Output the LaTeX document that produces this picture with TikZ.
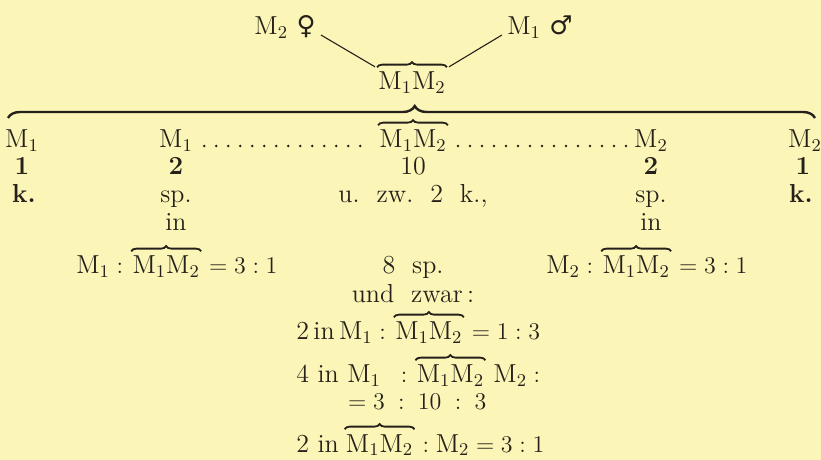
\documentclass[tikz,border=0pt]{standalone}
\usepackage{amsmath}
\usepackage{fontspec}
\newfontfamily\gsym{DejaVu Sans}
\usetikzlibrary{positioning, calc, decorations.pathreplacing}
\definecolor{paper}{RGB}{251,246,183}
\definecolor{ink}{RGB}{38,32,26}
\newcommand{\Mone}{\mathrm{M}_1}
\newcommand{\Mtwo}{\mathrm{M}_2}
\newcommand{\Mpair}{$\Mone\Mtwo$}
\begin{document}
\begin{tikzpicture}[x=0.5pt, y=-0.5pt, font=\fontsize{13}{15}\selectfont,
    lbl/.style={text=ink, inner sep=0.5pt, anchor=base},
    link/.style={draw=ink, line width=0.55pt},
    lead/.style={draw=ink, line width=1.4pt, line cap=round, dash pattern=on 0pt off 6pt},
    pairbrace/.style={draw=ink, line width=0.9pt, decorate, decoration={brace, amplitude=2.6pt}},
    bigbrace/.style={draw=ink, line width=1.2pt, decorate, decoration={brace, amplitude=6pt, aspect=0.504}}]
    \fill[paper] (0,0) rectangle (821,460);
    \useasboundingbox (0,0) rectangle (821,460);

    % parents and offspring
    \node [lbl] (fem) at (285,35) {$\Mtwo$~{\gsym ♀}};
    \node [lbl] (mal) at (540,35) {$\Mone$~{\gsym ♂}};
    \node [lbl] (top) at (412,90) {\Mpair};
    \draw [link] ([xshift=2pt]fem.base east) -- ([xshift=-1pt, yshift=2pt]top.north west);
    \draw [link] ([xshift=-2pt]mal.base west) -- ([xshift=1pt, yshift=2pt]top.north east);

    \draw [bigbrace] (8,118) -- (815,118);

    % the five columns
    \node [lbl] (a1) at (22,148) {$\Mone$};
    \node [lbl] (b1) at (176,148) {$\Mone$};
    \node [lbl] (c1) at (413,148) {\Mpair};
    \node [lbl] (d1) at (651,148) {$\Mtwo$};
    \node [lbl] (e1) at (805,148) {$\Mtwo$};
    \draw [lead] ([xshift=5pt, yshift=1pt]b1.base east) -- ([xshift=-3pt, yshift=1pt]c1.base west);
    \draw [lead] ([xshift=5pt, yshift=1pt]c1.base east) -- ([xshift=-1pt, yshift=1pt]d1.base west);

    \node [lbl] (a2) at (22,175) {\textbf{1}};
    \node [lbl] (b2) at (176,175) {\textbf{2}};
    \node [lbl] (c2) at (413,175) {10};
    \node [lbl] (d2) at (651,175) {\textbf{2}};
    \node [lbl] (e2) at (803,175) {\textbf{1}};

    \node [lbl] (a3) at (24,203) {\textbf{k.}};
    \node [lbl] (b3) at (176,203) {sp.};
    \node [lbl] (c3) at (413,203) {u.\ \ zw.\ \ 2\ \ k.,};
    \node [lbl] (d3) at (651,203) {sp.};
    \node [lbl] (e3) at (801,203) {\textbf{k.}};

    \node [lbl] (b4) at (176,231) {in};
    \node [lbl] (d4) at (651,231) {in};

    % ratios
    \node [lbl, anchor=base west] (b5) at (75,274) {$\Mone:{}$};
    \node [lbl, base right=0pt of b5] (b5p) {\Mpair};
    \node [lbl, base right=0pt of b5p] (b5r) {${}=3:1$};
    \node [lbl] (c5) at (413,274) {8\ \ sp.};
    \node [lbl, anchor=base west] (d5) at (545,274) {$\Mtwo:{}$};
    \node [lbl, base right=0pt of d5] (d5p) {\Mpair};
    \node [lbl, base right=0pt of d5p] (d5r) {${}=3:1$};
    \node [lbl] (c6) at (413,303) {und\ \ zwar\,:};

    \node [lbl, anchor=base west] (c7) at (295,340) {2\,in\,$\Mone:{}$};
    \node [lbl, base right=0pt of c7] (c7p) {\Mpair};
    \node [lbl, base right=0pt of c7p] (c7r) {${}=1:3$};
    \node [lbl, anchor=base west] (c8) at (295,383) {4 in $\Mone\;\;:{}$};
    \node [lbl, base right=0pt of c8] (c8p) {\Mpair};
    \node [lbl, base right=0pt of c8p] (c8r) {$\;\Mtwo:$};
    \node [lbl] (c9) at (414,409) {${}=3\;:\;10\;:\;3$};
    \node [lbl, anchor=base west] (c10) at (295,452) {2 in\,};
    \node [lbl, base right=0pt of c10] (c10p) {\Mpair};
    \node [lbl, base right=0pt of c10p] (c10r) {${}:\Mtwo=3:1$};

    \foreach \p in {top, c1, b5p, d5p, c7p, c8p, c10p}
        \draw [pairbrace] ([yshift=1.8pt]\p.north west) -- ([yshift=1.8pt]\p.north east);
\end{tikzpicture}
\end{document}
